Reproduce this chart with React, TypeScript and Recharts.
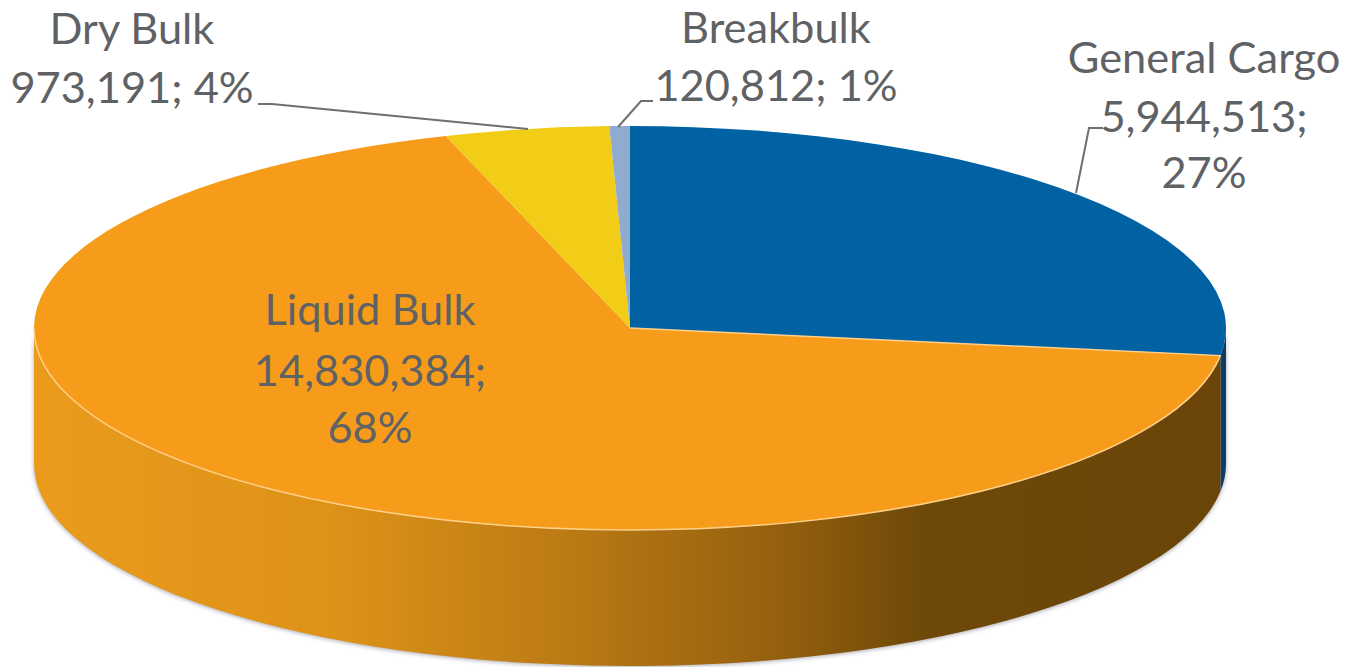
import { PieChart, Pie } from 'recharts';

const categories = ['General Cargo', 'Liquid Bulk', 'Dry Bulk', 'Breakbulk'];
const tonnage = [5944513, 14830384, 973191, 120812];

const topColors: Record<string, string> = {
  'General Cargo': '#0061a3',
  'Liquid Bulk': '#f69c1a',
  'Dry Bulk': '#f2cd17',
  'Breakbulk': '#8fabd0',
};
const wallColors: Record<string, string> = {
  'General Cargo': '#0a3d63',
  'Liquid Bulk': 'url(#wallShade)',
  'Dry Bulk': '#a88c10',
  'Breakbulk': '#62758f',
};

// where each label sits: centre x, one baseline per line, and its leader line
const labelSpots: Record<string, { x: number; ys: number[]; leader?: string }> = {
  'General Cargo': { x: 1204, ys: [73, 132, 188], leader: '1103,128 1089,128 1076,193' },
  'Liquid Bulk': { x: 370, ys: [325, 386, 443] },
  'Dry Bulk': { x: 132, ys: [44, 103], leader: '258,104 272,104 528,129' },
  'Breakbulk': { x: 776, ys: [43, 101], leader: '653,101 641,101 618,127' },
};

const tableData = categories.map((name, i) => ({ name, value: tonnage[i] }));

const CX = 630;
const CY = 328;
const RX = 596;
const RY = 202;
const DEPTH = 136;

const pt = (deg: number, dy = 0) => {
  const a = (deg * Math.PI) / 180;
  return `${CX + RX * Math.cos(a)},${CY + dy - RY * Math.sin(a)}`;
};

const TopFace = (props: any) => {
  const { startAngle, endAngle, name } = props;
  const large = Math.abs(startAngle - endAngle) > 180 ? 1 : 0;
  const hi = Math.min(startAngle, 0);
  const lo = Math.max(endAngle, -180);
  return (
    <g>
      <path
        d={`M${CX},${CY} L${pt(startAngle)} A${RX},${RY} 0 ${large} 1 ${pt(endAngle)} Z`}
        fill={topColors[name]}
      />
      {hi - lo > 30 && (
        <path
          d={`M${CX},${CY} L${pt(hi)} A${RX},${RY} 0 0 1 ${pt(lo)}`}
          fill="none"
          stroke="#ffd08a"
          strokeWidth={1.5}
        />
      )}
    </g>
  );
};

const SideWall = (props: any) => {
  const { startAngle, endAngle, name } = props;
  const hi = Math.min(startAngle, 0);
  const lo = Math.max(endAngle, -180);
  if (hi <= lo) return <g />;
  return (
    <path
      d={`M${pt(hi)} A${RX},${RY} 0 0 1 ${pt(lo)} L${pt(lo, DEPTH)} A${RX},${RY} 0 0 0 ${pt(hi, DEPTH)} Z`}
      fill={wallColors[name]}
      style={{ filter: 'drop-shadow(0px 1px 2px rgba(80,80,100,0.5))' }}
    />
  );
};

const SliceLabel = (props: any) => {
  const { name, value, percent } = props;
  const spot = labelSpots[name];
  const amount = `${value.toLocaleString('en-US')};`;
  const share = `${Math.round(percent * 100)}%`;
  const lines = spot.ys.length === 3 ? [name, amount, share] : [name, `${amount} ${share}`];
  return (
    <g>
      {spot.leader && <polyline points={spot.leader} fill="none" stroke="#6f6f6f" strokeWidth={2} />}
      {lines.map((line, i) => (
        <text
          key={line}
          x={spot.x}
          y={spot.ys[i]}
          textAnchor="middle"
          fontFamily="Lato, sans-serif"
          fontSize={43.4}
          fill="#5f6265"
        >
          {line}
        </text>
      ))}
    </g>
  );
};

export default function App() {
  return (
    <div style={{ position: 'absolute', left: 0, top: 0, width: 1348, height: 667 }}>
      <PieChart width={1348} height={667} margin={{ top: 0, right: 0, bottom: 0, left: 0 }}>
        <defs>
          <linearGradient id="wallShade" gradientUnits="userSpaceOnUse" x1={33} y1={0} x2={1225} y2={0}>
            <stop offset="0" stopColor="#ea9b1c" />
            <stop offset="0.25" stopColor="#dd9318" />
            <stop offset="0.45" stopColor="#bb7a14" />
            <stop offset="0.62" stopColor="#96610f" />
            <stop offset="0.75" stopColor="#6d4808" />
            <stop offset="1" stopColor="#6b4508" />
          </linearGradient>
        </defs>
        <Pie
          data={tableData}
          dataKey="value"
          nameKey="name"
          cx={CX}
          cy={CY}
          outerRadius={RX}
          startAngle={90}
          endAngle={-270}
          stroke="none"
          shape={SideWall}
          label={false}
          labelLine={false}
          isAnimationActive={false}
        />
        <Pie
          data={tableData}
          dataKey="value"
          nameKey="name"
          cx={CX}
          cy={CY}
          outerRadius={RX}
          startAngle={90}
          endAngle={-270}
          stroke="none"
          shape={TopFace}
          label={SliceLabel}
          labelLine={false}
          isAnimationActive={false}
        />
      </PieChart>
    </div>
  );
}
